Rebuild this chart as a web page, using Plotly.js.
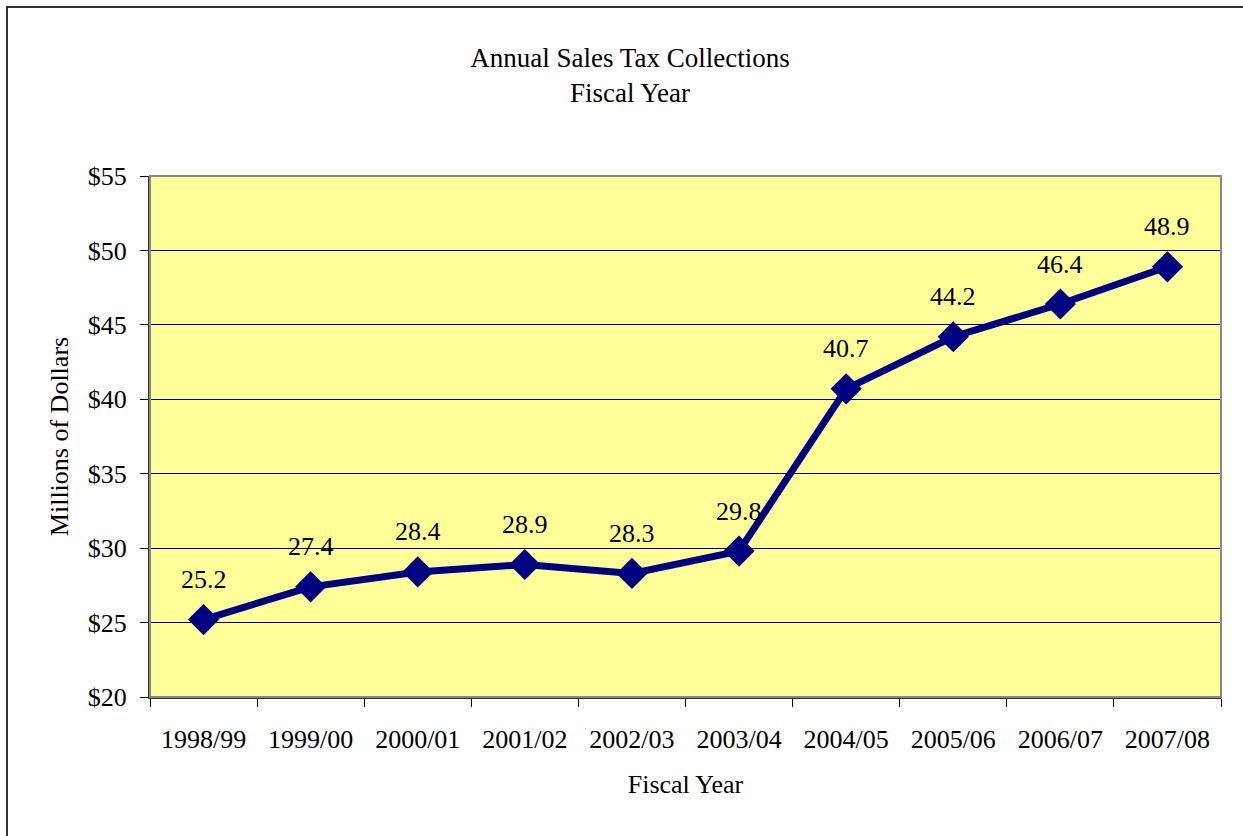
<!DOCTYPE html>
<html>
<head>
<meta charset="utf-8">
<script src="https://cdn.plot.ly/plotly-3.0.1.min.js"></script>
<style>html,body{margin:0;padding:0;background:#fff;}#chart{width:1243px;height:836px;}</style>
</head>
<body>
<div id="chart"></div>
<script>
const fiscalYears = ["1998/99","1999/00","2000/01","2001/02","2002/03","2003/04","2004/05","2005/06","2006/07","2007/08"];
const collections = [25.2, 27.4, 28.4, 28.9, 28.3, 29.8, 40.7, 44.2, 46.4, 48.9];
const valueLabels = ["25.2","27.4","28.4","28.9","28.3","29.8","40.7","44.2","46.4","48.9"];

const fontFam = "Liberation Serif";
const FS = 26;

const trace = {
  x: fiscalYears,
  y: collections,
  type: "scatter",
  mode: "lines+markers",
  line: {color: "#000080", width: 7},
  marker: {symbol: "diamond", size: 24, color: "#000080"},
  hoverinfo: "x+y"
};

const annotations = fiscalYears.map((c, i) => ({
  x: c, y: collections[i], xref: "x", yref: "y",
  text: valueLabels[i], showarrow: false,
  yshift: 40, font: {family: fontFam, size: FS, color: "#000"}
}));

const W = 1071, H = 521;
const shapes = [{
  type: "rect", xref: "paper", yref: "paper",
  x0: (7-150)/W, x1: (1300-150)/W,
  y0: -(900-697)/H, y1: 1 + (176-7)/H,
  line: {color: "#333", width: 2}, fillcolor: "rgba(0,0,0,0)", layer: "below"
}, {
  type: "rect", xref: "paper", yref: "paper", x0: 0, x1: 1, y0: 0, y1: 1,
  line: {color: "#888", width: 2}, fillcolor: "rgba(0,0,0,0)", layer: "above"
}];

const layout = {
  width: 1243, height: 836,
  margin: {l: 150, r: 22, t: 176, b: 139},
  paper_bgcolor: "#fff",
  plot_bgcolor: "#FFFF99",
  font: {family: fontFam, size: FS, color: "#000"},
  title: {
    text: "Annual Sales Tax Collections<br>Fiscal Year",
    font: {family: fontFam, size: 27, color: "#000"},
    x: 630/1243, xref: "container", xanchor: "center",
    y: 1 - 67/836, yref: "container", yanchor: "top"
  },
  xaxis: {
    type: "category",
    tickson: "boundaries",
    ticks: "outside", ticklen: 8, tickcolor: "#000", tickwidth: 1,
    ticklabelstandoff: 18,
    showline: true, linecolor: "#333", linewidth: 2, mirror: false,
    showgrid: false, zeroline: false,
    tickfont: {family: fontFam, size: FS, color: "#000"},
    title: {text: "Fiscal Year", font: {family: fontFam, size: FS, color: "#000"}, standoff: 22},
    range: [-0.5, 9.5]
  },
  yaxis: {
    range: [20, 55], dtick: 5, tick0: 20,
    tickprefix: "$",
    ticks: "outside", ticklen: 8, tickcolor: "#000",
    ticklabelstandoff: 8,
    showline: true, linecolor: "#333", linewidth: 2,
    showgrid: true, gridcolor: "#000", gridwidth: 1,
    zeroline: false,
    tickfont: {family: fontFam, size: FS, color: "#000"},
    title: {text: "Millions of Dollars", font: {family: fontFam, size: FS, color: "#000"}, standoff: 12}
  },
  shapes: shapes,
  annotations: annotations,
  showlegend: false
};

Plotly.newPlot("chart", [trace], layout, {displayModeBar: false, staticPlot: true});
</script>
</body>
</html>
